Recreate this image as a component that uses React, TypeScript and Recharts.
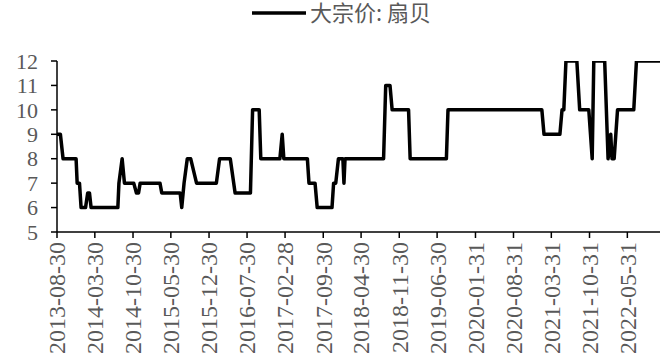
import React from 'react';
import { LineChart, Line, XAxis, YAxis, Legend } from 'recharts';

const seriesName = '大宗价: 扇贝';

const dates = [
  '2013-08-30', '2013-09-18', '2013-10-03', '2013-12-15', '2013-12-21', '2014-01-03', '2014-01-12',
  '2014-02-06', '2014-02-18', '2014-02-28', '2014-03-09', '2014-08-06', '2014-08-12', '2014-08-30',
  '2014-09-12', '2014-11-03', '2014-11-18', '2014-11-30', '2014-12-09', '2015-03-30', '2015-04-09',
  '2015-07-21', '2015-07-30', '2015-08-12', '2015-08-30', '2015-09-18', '2015-10-21', '2016-02-09',
  '2016-02-27', '2016-04-27', '2016-05-24', '2016-08-18', '2016-08-30', '2016-10-06', '2016-10-15',
  '2017-01-30', '2017-02-12', '2017-02-21', '2017-07-03', '2017-07-12', '2017-08-15', '2017-08-27',
  '2017-11-18', '2017-11-27', '2017-12-09', '2017-12-24', '2018-01-18', '2018-01-24', '2018-01-30',
  '2018-09-03', '2018-09-15', '2018-10-09', '2018-10-21', '2019-01-21', '2019-01-30', '2019-08-21',
  '2019-08-30', '2021-02-06', '2021-02-18', '2021-05-18', '2021-05-30', '2021-06-09', '2021-06-21',
  '2021-08-21', '2021-09-06', '2021-10-27', '2021-11-15', '2021-11-24', '2022-01-24', '2022-02-12',
  '2022-02-27', '2022-03-06', '2022-03-18', '2022-04-06', '2022-07-06', '2022-07-21', '2022-11-30',
];

const values = [
  9, 9, 8, 8, 7, 7, 6,
  6, 6.6, 6.6, 6, 6, 7, 8,
  7, 7, 6.6, 6.6, 7, 7, 6.6,
  6.6, 6, 7, 8, 8, 7, 7,
  8, 8, 6.6, 6.6, 10, 10, 8,
  8, 9, 8, 8, 7, 7, 6,
  6, 7, 7, 8, 8, 7, 8,
  8, 11, 11, 10, 10, 8, 8,
  10, 10, 9, 9, 10, 10, 12,
  12, 10, 10, 8, 12, 12, 8,
  9, 8, 8, 10, 10, 12, 12,
];

const xTickLabels = [
  '2013-08-30', '2014-03-30', '2014-10-30', '2015-05-30', '2015-12-30', '2016-07-30',
  '2017-02-28', '2017-09-30', '2018-04-30', '2018-11-30', '2019-06-30', '2020-01-31',
  '2020-08-31', '2021-03-31', '2021-10-31', '2022-05-31',
];

const yTicks = [5, 6, 7, 8, 9, 10, 11, 12];
const xDomainLabels = ['2013-08-30', '2022-11-30'];

const data = dates.map((d, i) => ({ t: Date.parse(d), v: values[i] }));
const xTicks = xTickLabels.map((s) => Date.parse(s));
const xDomain = xDomainLabels.map((s) => Date.parse(s));

const GRAY = '#595959';
const SERIF = "'Liberation Serif', 'Times New Roman', serif";

const XTick = (props: any) => {
  const { x, y, payload } = props;
  const label = new Date(payload.value).toISOString().slice(0, 10);
  return (
    <g transform={`translate(${x},${y})`}>
      <text
        transform="rotate(-90)"
        x={-2}
        y={0}
        dy="0.35em"
        textAnchor="end"
        fill={GRAY}
        style={{ fontFamily: SERIF, fontSize: 24 }}
      >
        {label}
      </text>
    </g>
  );
};

const YTick = (props: any) => {
  const { x, y, payload } = props;
  return (
    <text x={x} y={y} dy="0.35em" textAnchor="end" fill={GRAY} style={{ fontFamily: SERIF, fontSize: 22 }}>
      {payload.value}
    </text>
  );
};

const LegendContent = () => (
  <svg width={671} height={30} style={{ display: 'block' }}>
    <line x1={252} y1={13} x2={306} y2={13} stroke="#000" strokeWidth={3.5} />
    <text
      x={310}
      y={13}
      dy="0.36em"
      fill={GRAY}
      style={{ fontFamily: "'Noto Sans CJK SC', sans-serif", fontSize: 22 }}
    >
      {seriesName}
    </text>
  </svg>
);

export default function App() {
  return (
    <div style={{ position: 'absolute', left: 0, top: 0, width: 671, height: 359, background: '#fff' }}>
      <LineChart width={671} height={359} data={data} margin={{ top: 31, right: 11, left: 0, bottom: 0 }}>
        <Legend verticalAlign="top" content={<LegendContent />} wrapperStyle={{ top: 0, left: 0, width: 671 }} />
        <XAxis
          dataKey="t"
          type="number"
          scale="linear"
          domain={xDomain}
          ticks={xTicks}
          interval={0}
          height={127}
          tickSize={6}
          axisLine={{ stroke: '#000', strokeWidth: 1.5 }}
          tickLine={{ stroke: '#000', strokeWidth: 1.5 }}
          tick={<XTick />}
          allowDataOverflow
        />
        <YAxis
          domain={[5, 12]}
          ticks={yTicks}
          interval={0}
          width={57}
          tickSize={6}
          tickMargin={13}
          axisLine={{ stroke: '#000', strokeWidth: 1.5 }}
          tickLine={{ stroke: '#000', strokeWidth: 1.5 }}
          tick={<YTick />}
          allowDataOverflow
        />
        <Line
          type="linear"
          dataKey="v"
          name={seriesName}
          stroke="#000"
          strokeWidth={3.5}
          strokeLinejoin="round"
          dot={false}
          activeDot={false}
          isAnimationActive={false}
        />
      </LineChart>
    </div>
  );
}
